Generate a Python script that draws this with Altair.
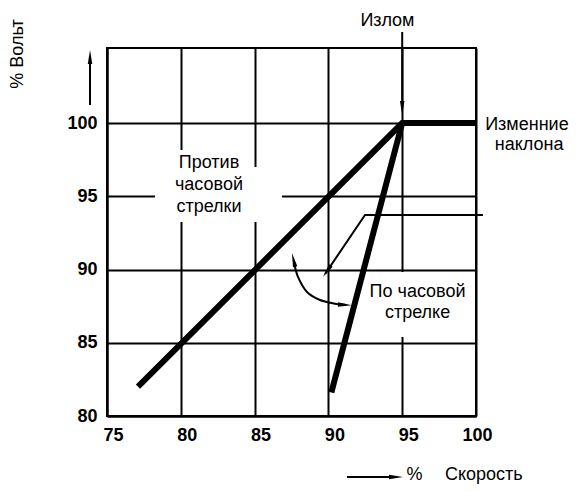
import altair as alt
import pandas as pd

# ---- axes ----
x_ticks = [75, 80, 85, 90, 95, 100]
y_ticks = [80, 85, 90, 95, 100]
x_domain = [75, 100]
y_domain = [80, 105.12]

# ---- thick characteristic lines ----
ccw_x = [77.1, 95, 100]
ccw_y = [82.0, 100, 100]
cw_x = [90.2, 95]
cw_y = [81.6, 100]

# ---- white boxes behind the labels (grid interrupted) ----
box_x1 = [78.25, 79.27, 91.80]
box_x2 = [86.86, 84.69, 99.93]
box_y1 = [93.24, 97.0, 85.39]
box_y2 = [97.0, 98.16, 89.83]

# ---- thin annotation lines ----
ptr_x = [100.47, 92.48, 89.78]
ptr_y = [93.72, 93.72, 89.70]
curve_x = [87.67, 87.94, 88.55, 89.43, 90.58, 91.19]
curve_y = [90.51, 89.49, 88.46, 87.92, 87.64, 87.58]
# straight arrows: (x1, y1) -> (x2, y2)
arr_x1 = [73.85, 95.0, 91.26]
arr_y1 = [101.23, 106.21, 75.84]
arr_x2 = [73.85, 95.0, 94.6]
arr_y2 = [104.3, 101.3, 75.84]

# arrow heads (centres and directions)
head_x = [73.85, 95.0, 94.58, 89.90, 87.64, 91.12]
head_y = [104.5, 101.02, 75.84, 89.88, 90.66, 87.58]
head_angle = [0, 180, 90, 214, 347, 93]

# ---- texts ----
txt = ["Излом", "Изменние", "наклона", "Против", "часовой", "стрелки",
       "По часовой", "стрелке", "%"]
txt_x = [94.0, 103.45, 103.6, 81.91, 81.91, 81.91, 96.04, 96.04, 95.83]
txt_y = [106.96, 99.86, 98.5, 97.27, 95.77, 94.27, 88.46, 87.03, 75.95]
left_txt = ["Скорость"]
left_x = [97.90]
left_y = [75.95]
ylab_text = ["% Вольт"]
ylab_x = [68.97]
ylab_y = [104.71]

FONT = "Liberation Sans"
xs = alt.Scale(domain=x_domain, nice=False, zero=False)
ys = alt.Scale(domain=y_domain, nice=False, zero=False)

lines_df = pd.DataFrame(
    {"x": ccw_x + cw_x, "y": ccw_y + cw_y,
     "s": ["ccw"] * len(ccw_x) + ["cw"] * len(cw_x),
     "o": list(range(len(ccw_x))) + list(range(len(cw_x)))})
box_df = pd.DataFrame({"x": box_x1, "x2": box_x2, "y": box_y1, "y2": box_y2})
ptr_df = pd.DataFrame({"x": ptr_x, "y": ptr_y, "o": list(range(len(ptr_x)))})
curve_df = pd.DataFrame({"x": curve_x, "y": curve_y, "o": list(range(len(curve_x)))})
arr_df = pd.DataFrame({"x": arr_x1, "y": arr_y1, "x2": arr_x2, "y2": arr_y2})
head_df = pd.DataFrame({"x": head_x, "y": head_y, "a": head_angle})
txt_df = pd.DataFrame({"t": txt, "x": txt_x, "y": txt_y})
left_df = pd.DataFrame({"t": left_txt, "x": left_x, "y": left_y})
ylab_df = pd.DataFrame({"t": ylab_text, "x": ylab_x, "y": ylab_y})

X = lambda: alt.X("x:Q", scale=xs, axis=alt.Axis(values=x_ticks, title=None, labelPadding=10,
                                                  labelAlign="right", labelOffset=16))
Y = lambda: alt.Y("y:Q", scale=ys, axis=alt.Axis(values=y_ticks, title=None, labelPadding=10))

boxes = alt.Chart(box_df).mark_rect(color="white").encode(
    x=X(), x2="x2:Q", y=Y(), y2="y2:Q")

thick = alt.Chart(lines_df).mark_line(color="black", strokeWidth=6, strokeCap="butt",
                                      strokeJoin="miter").encode(
    x=X(), y=Y(), detail="s:N", order="o:Q")

ptr = alt.Chart(ptr_df).mark_line(color="black", strokeWidth=2).encode(
    x=X(), y=Y(), order="o:Q")

curve = alt.Chart(curve_df).mark_line(color="black", strokeWidth=2,
                                      interpolate="cardinal").encode(
    x=X(), y=Y(), order="o:Q")

arrows = alt.Chart(arr_df).mark_rule(color="black", strokeWidth=2).encode(
    x=X(), y=Y(), x2="x2:Q", y2="y2:Q")

heads = alt.Chart(head_df).mark_point(
    shape="M0,-1L0.32,1L-0.32,1Z", filled=True, color="black", opacity=1,
    size=196, strokeWidth=0).encode(
    x=X(), y=Y(), angle=alt.Angle("a:Q", scale=None))

texts = alt.Chart(txt_df).mark_text(font=FONT, fontSize=18, color="black",
                                    align="center", baseline="middle").encode(
    x=X(), y=Y(), text="t:N")

left_texts = alt.Chart(left_df).mark_text(font=FONT, fontSize=18, color="black",
                                          align="left", baseline="middle").encode(
    x=X(), y=Y(), text="t:N")

ylab = alt.Chart(ylab_df).mark_text(font=FONT, fontSize=18, color="black",
                                    angle=270, align="center", baseline="middle").encode(
    x=X(), y=Y(), text="t:N")

chart = alt.layer(boxes, thick, ptr, curve, arrows, heads, texts, left_texts, ylab).properties(
    width=369, height=368,
    autosize=alt.AutoSizeParams(type="none"),
    padding={"left": 99, "top": 40, "right": 93, "bottom": 68},
).configure_view(
    stroke="black", strokeWidth=2
).configure_axis(
    domain=True, domainColor="black", domainWidth=2,
    grid=True, gridColor="black", gridWidth=2, gridOpacity=1,
    ticks=False, tickSize=0,
    labelFont=FONT, labelFontSize=18, labelFontWeight="bold", labelColor="black",
)

chart.save("out.html", embed_options={"renderer": "svg", "actions": False})
